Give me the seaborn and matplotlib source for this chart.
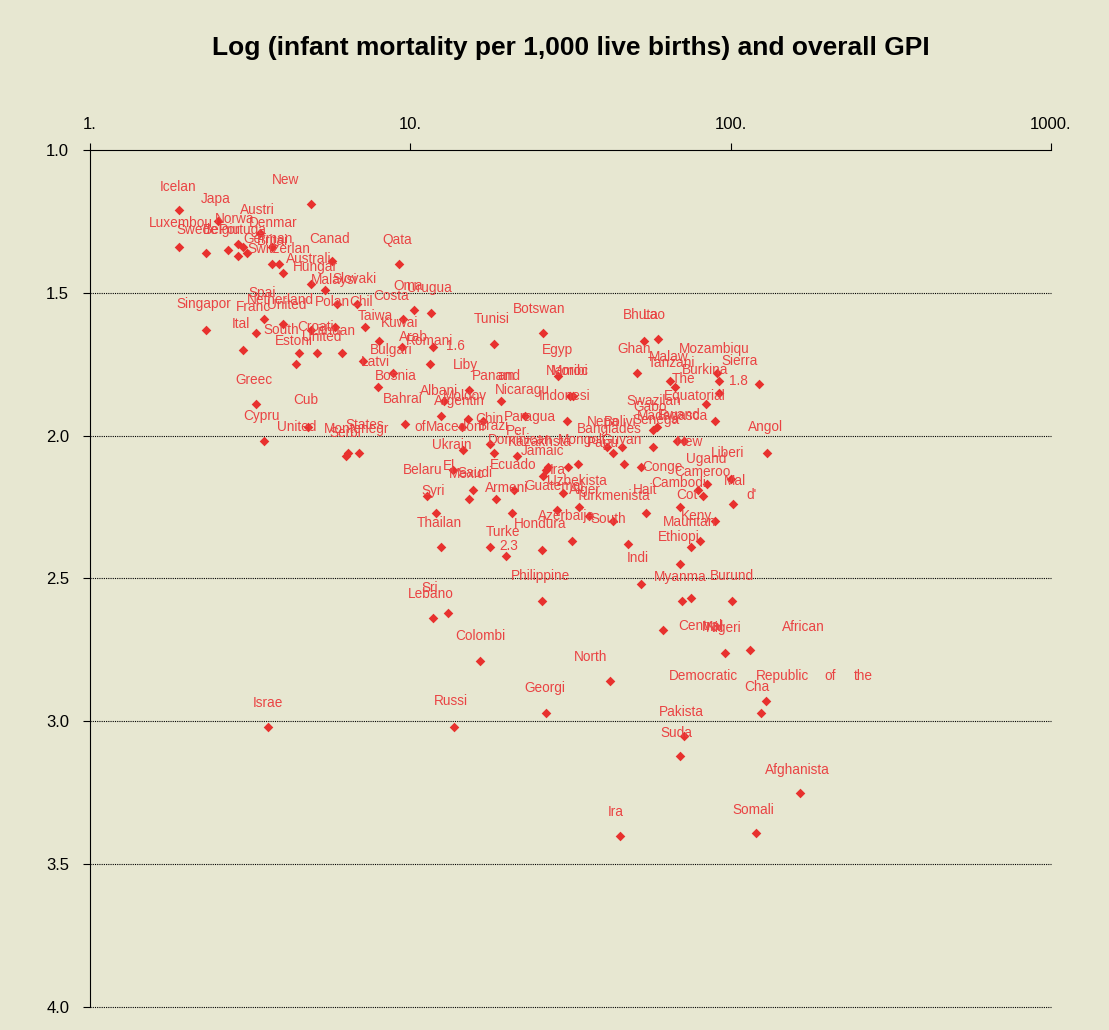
import numpy as np
import pandas as pd
import seaborn as sns
import matplotlib.pyplot as plt

# infant mortality per 1,000 live births (x, log scale) against overall GPI (y)
mortality = [1.9, 1.9, 2.3, 2.7, 2.5, 2.9, 3.0, 2.9, 3.1, 3.4, 3.7, 3.7, 3.9, 4.0,
             4.9, 5.7, 4.9, 5.4, 5.9, 6.8, 9.2, 10.3, 11.6, 9.5, 7.2, 5.8, 4.9, 4.0,
             3.5, 3.3, 2.3, 3.0, 4.5, 5.1, 6.1, 4.4, 8.0, 9.4, 11.8, 7.1, 11.5, 8.8,
             7.9, 3.3, 4.8, 3.5, 6.3, 6.4, 6.9, 9.6, 18.2, 25.9,
             15.2, 12.7, 19.2, 12.5, 15.1, 16.8, 14.5, 28.8, 31.5, 32.1, 22.8, 30.8,
             14.6, 17.7, 18.2, 21.6, 26.9, 26.6, 31.0, 33.3, 25.9, 21.0, 18.5, 29.9,
             33.6, 28.6, 20.7, 36.1, 42.8, 54.3, 69.3, 41.0, 42.8, 45.7, 57.1, 67.9,
             71.4, 46.4, 52.4, 13.6, 15.7, 15.2, 11.3, 12.0, 12.5, 17.7, 19.9, 25.7,
             31.9,
             53.5, 59.2, 50.9, 64.5, 66.9, 90.4, 91.7, 91.7, 123, 83.6, 89.1, 58.8,
             57.1, 130, 84.2, 100, 78.9, 81.8, 102, 89.1, 80.0, 75.0, 47.7, 69.3,
             52.4, 70.3, 75.0, 101, 61.4, 95.8, 115, 129, 124, 71.4, 69.3, 3.6, 120,
             164, 45.1, 25.7, 13.1, 11.8, 16.5, 41.9, 26.5, 13.7]
gpi = [1.21, 1.34, 1.36, 1.35, 1.25, 1.33, 1.34, 1.37, 1.36, 1.29, 1.34, 1.40, 1.40, 1.43,
       1.19, 1.39, 1.47, 1.49, 1.54, 1.54, 1.40, 1.56, 1.57, 1.59, 1.62, 1.62, 1.63, 1.61,
       1.59, 1.64, 1.63, 1.70, 1.71, 1.71, 1.71, 1.75, 1.67, 1.69, 1.69, 1.74, 1.75, 1.78,
       1.83, 1.89, 1.97, 2.02, 2.07, 2.06, 2.06, 1.96, 1.68, 1.64,
       1.84, 1.88, 1.88, 1.93, 1.94, 1.95, 1.97, 1.79, 1.86, 1.86, 1.93, 1.95,
       2.05, 2.03, 2.06, 2.07, 2.11, 2.12, 2.11, 2.10, 2.14, 2.19, 2.22, 2.20,
       2.25, 2.26, 2.27, 2.28, 2.30, 2.27, 2.25, 2.04, 2.06, 2.04, 2.04, 2.02,
       2.02, 2.10, 2.11, 2.12, 2.19, 2.22, 2.21, 2.27, 2.39, 2.39, 2.42, 2.40,
       2.37,
       1.67, 1.66, 1.78, 1.81, 1.83, 1.78, 1.81, 1.85, 1.82, 1.89, 1.95, 1.97,
       1.98, 2.06, 2.17, 2.15, 2.19, 2.21, 2.24, 2.30, 2.37, 2.39, 2.38, 2.45,
       2.52, 2.58, 2.57, 2.58, 2.68, 2.76, 2.75, 2.93, 2.97, 3.05, 3.12, 3.02, 3.39,
       3.25, 3.40, 2.58, 2.62, 2.64, 2.79, 2.86, 2.97, 3.02]

# text labels as they sit on the chart (x value, GPI value)
label_text = ["Icelan", "New", "Japa", "Austri", "Luxembou", "Norwa", "Denmar", "Swede",
              "Belgiu", "Portuga", "German", "Britai", "Switzerlan", "Canad", "Qata",
              "Australi", "Hungar", "Malaysi", "Slovaki", "Oma", "Urugua", "Costa", "Spai",
              "Netherland", "Polan", "Chil", "Singapor", "Franc", "United", "Taiwa", "Kuwai",
              "Ital", "South", "Croati", "Lithuan", "United", "Estoni", "Arab", "Romani",
              "1.6", "Bulgari", "Latvi", "Liby", "Bosnia", "Panam", "and", "Egyp", "Tunisi",
              "Botswan", "Namibi", "Moroc", "Albani", "Moldov", "Argentin", "Nicaragu",
              "Indonesi", "Bahrai", "Cub", "Greec", "Cypru", "United", "States", "Montenegr",
              "Serbi", "of", "Macedoni", "Brazi", "Chin", "Paragua", "Per", "Ukrain",
              "Banglades", "Nepa", "Bolivi", "Senega", "Madagasca", "Rwand", "Gabo",
              "Swazilan", "Equatorial", "The", "Burkina", "1.8", "Sierra", "Mozambiqu",
              "Malaw", "Tanzani", "Ghan", "Bhuta", "Lao", "Angol", "Dominican", "Kazakhsta",
              "Mongoli", "Papu", "Guyan", "Jamaic", "Ecuado", "Ira", "Uzbekista", "Guatemal",
              "Alger", "Turkmenista", "Armeni", "Azerbaija", "South", "Hondura", "Turke",
              "2.3", "Thailan", "Syri", "Belaru", "El", "Mexic", "Saudi", "Ugand", "Liberi",
              "New", "Conge", "Cameroo", "Mal", "Cambodi", "Hait", "Cot", "d'", "Keny",
              "Mauritan", "Ethiopi", "Indi", "Myanma", "Burund", "Philippine", "Sri",
              "Lebano", "Colombi", "Central", "Mal", "Nigeri", "African", "North",
              "Democratic", "Republic", "of", "the", "Cha", "Georgi", "Pakista", "Suda",
              "Israe", "Russi", "Afghanista", "Somali", "Ira"]
label_x = [1.88, 4.09, 2.47, 3.32, 1.92, 2.83, 3.72, 2.16, 2.58, 3.0, 3.59, 3.70, 3.89, 5.61,
           9.08, 4.82, 5.04, 5.77, 6.71, 9.82, 11.5, 8.70, 3.44, 3.94, 5.73, 7.01, 2.27,
           3.23, 4.12, 7.80, 9.27, 2.96, 3.94, 5.04, 5.73, 5.29, 4.33, 10.25, 11.5, 13.8,
           8.70, 7.75, 14.9, 9.01, 18.2, 20.3, 28.8, 18.0, 25.2, 30.8, 31.5, 12.3, 14.8,
           14.2, 22.4, 30.3, 9.48, 4.72, 3.25, 3.42, 4.42, 7.21, 6.81, 6.25, 10.7, 13.8,
           18.2, 17.6, 23.6, 21.5, 13.5, 41.9, 40.1, 45.1, 58.3, 65.9, 69.3, 55.9, 57.5,
           77.2, 71.4, 83.0, 106, 107, 89.1, 64.1, 65.5, 49.8, 52.4, 57.9, 128, 22.0,
           25.4, 34.3, 39.9, 45.7, 25.9, 20.9, 28.8, 33.1, 28.0, 35.0, 42.8, 20.0, 30.8,
           41.6, 25.4, 19.4, 20.3, 12.3, 11.8, 10.9, 13.2, 15.0, 15.9, 83.6, 97.9, 74.5,
           61.4, 81.8, 103, 68.8, 53.9, 72.9, 116, 78.3, 74.5, 68.8, 51.3, 69.8, 101,
           25.4, 11.5, 11.6, 16.5, 80.6, 87.9, 95.1, 169, 36.6, 82.4, 145, 205, 260, 121,
           26.3, 70.3, 67.9, 3.59, 13.4, 161, 118, 43.8]
label_y = [1.13, 1.105, 1.17, 1.21, 1.255, 1.24, 1.255, 1.28, 1.28, 1.28, 1.31, 1.32, 1.345,
           1.31, 1.315, 1.38, 1.41, 1.455, 1.45, 1.476, 1.483, 1.51, 1.50, 1.525, 1.532,
           1.532, 1.54, 1.55, 1.543, 1.58, 1.605, 1.61, 1.63, 1.62, 1.634, 1.655, 1.67,
           1.655, 1.67, 1.686, 1.70, 1.742, 1.753, 1.79, 1.791, 1.791, 1.70, 1.59, 1.557,
           1.774, 1.774, 1.843, 1.861, 1.879, 1.84, 1.861, 1.872, 1.875, 1.805, 1.93, 1.97,
           1.963, 1.977, 1.99, 1.97, 1.97, 1.966, 1.942, 1.935, 1.984, 2.033, 1.977, 1.952,
           1.952, 1.945, 1.931, 1.928, 1.90, 1.879, 1.861, 1.80, 1.77, 1.808, 1.739, 1.697,
           1.725, 1.746, 1.697, 1.578, 1.578, 1.97, 2.015, 2.022, 2.015, 2.026, 2.015,
           2.054, 2.103, 2.12, 2.159, 2.176, 2.19, 2.211, 2.183, 2.281, 2.292, 2.309,
           2.337, 2.386, 2.306, 2.194, 2.12, 2.106, 2.134, 2.13, 2.082, 2.06, 2.022, 2.11,
           2.127, 2.159, 2.166, 2.19, 2.208, 2.208, 2.281, 2.302, 2.355, 2.428, 2.495,
           2.491, 2.491, 2.533, 2.554, 2.701, 2.666, 2.67, 2.673, 2.67, 2.775, 2.841,
           2.841, 2.841, 2.841, 2.88, 2.883, 2.967, 3.04, 2.935, 2.929, 3.17, 3.31, 3.317]

x_ticks = [1, 10, 100, 1000]
x_tick_labels = ["1.", "10.", "100.", "1000."]
y_ticks = [1.0, 1.5, 2.0, 2.5, 3.0, 3.5, 4.0]

bg = "#E7E7D1"
marker_col = "#E8312E"
text_col = "#EA4343"

sns.set_theme(style="white")
plt.rcParams["font.family"] = ["Liberation Sans", "DejaVu Sans"]

df = pd.DataFrame({"mortality": mortality, "gpi": gpi})

fig = plt.figure(figsize=(11.09, 10.30), dpi=100, facecolor=bg)
ax = fig.add_axes([0.0812, 0.0223, 0.8665, 0.8321])
ax.set_facecolor(bg)

sns.scatterplot(data=df, x="mortality", y="gpi", marker="D", s=24, color=marker_col,
                linewidth=0, ax=ax, zorder=3)

for t, lx, ly in zip(label_text, label_x, label_y):
    ax.text(lx, ly, t, ha="center", va="center", fontsize=9.8, color=text_col, zorder=4)

ax.set_xscale("log")
ax.set_xlim(1, 1000)
ax.set_ylim(4.0, 1.0)
ax.xaxis.tick_top()
ax.set_xticks(x_ticks)
ax.set_xticklabels(x_tick_labels)
ax.xaxis.set_minor_locator(plt.NullLocator())
ax.set_yticks(y_ticks)
ax.set_yticklabels([f"{v:.1f}" for v in y_ticks])
ax.tick_params(axis="both", labelsize=12, colors="black", length=5, width=0.8,
               direction="out")
ax.tick_params(axis="x", top=True, bottom=False, pad=8)
ax.tick_params(axis="y", left=True, pad=10)
ax.set_xlabel("")
ax.set_ylabel("")

# dotted gridlines, including the one on the 4.0 edge
for v in y_ticks[1:]:
    ax.axhline(v, color="black", lw=0.8, ls=(0, (1, 1)), zorder=1, clip_on=False)

for side in ["right", "bottom"]:
    ax.spines[side].set_visible(False)
for side in ["left", "top"]:
    ax.spines[side].set_color("black")
    ax.spines[side].set_linewidth(0.8)

fig.text(0.515, 0.953, "Log (infant mortality per 1,000 live births) and overall GPI",
         ha="center", va="center", fontsize=19, fontweight="bold", color="black")

fig.savefig("out.png", dpi=100, facecolor=bg)
